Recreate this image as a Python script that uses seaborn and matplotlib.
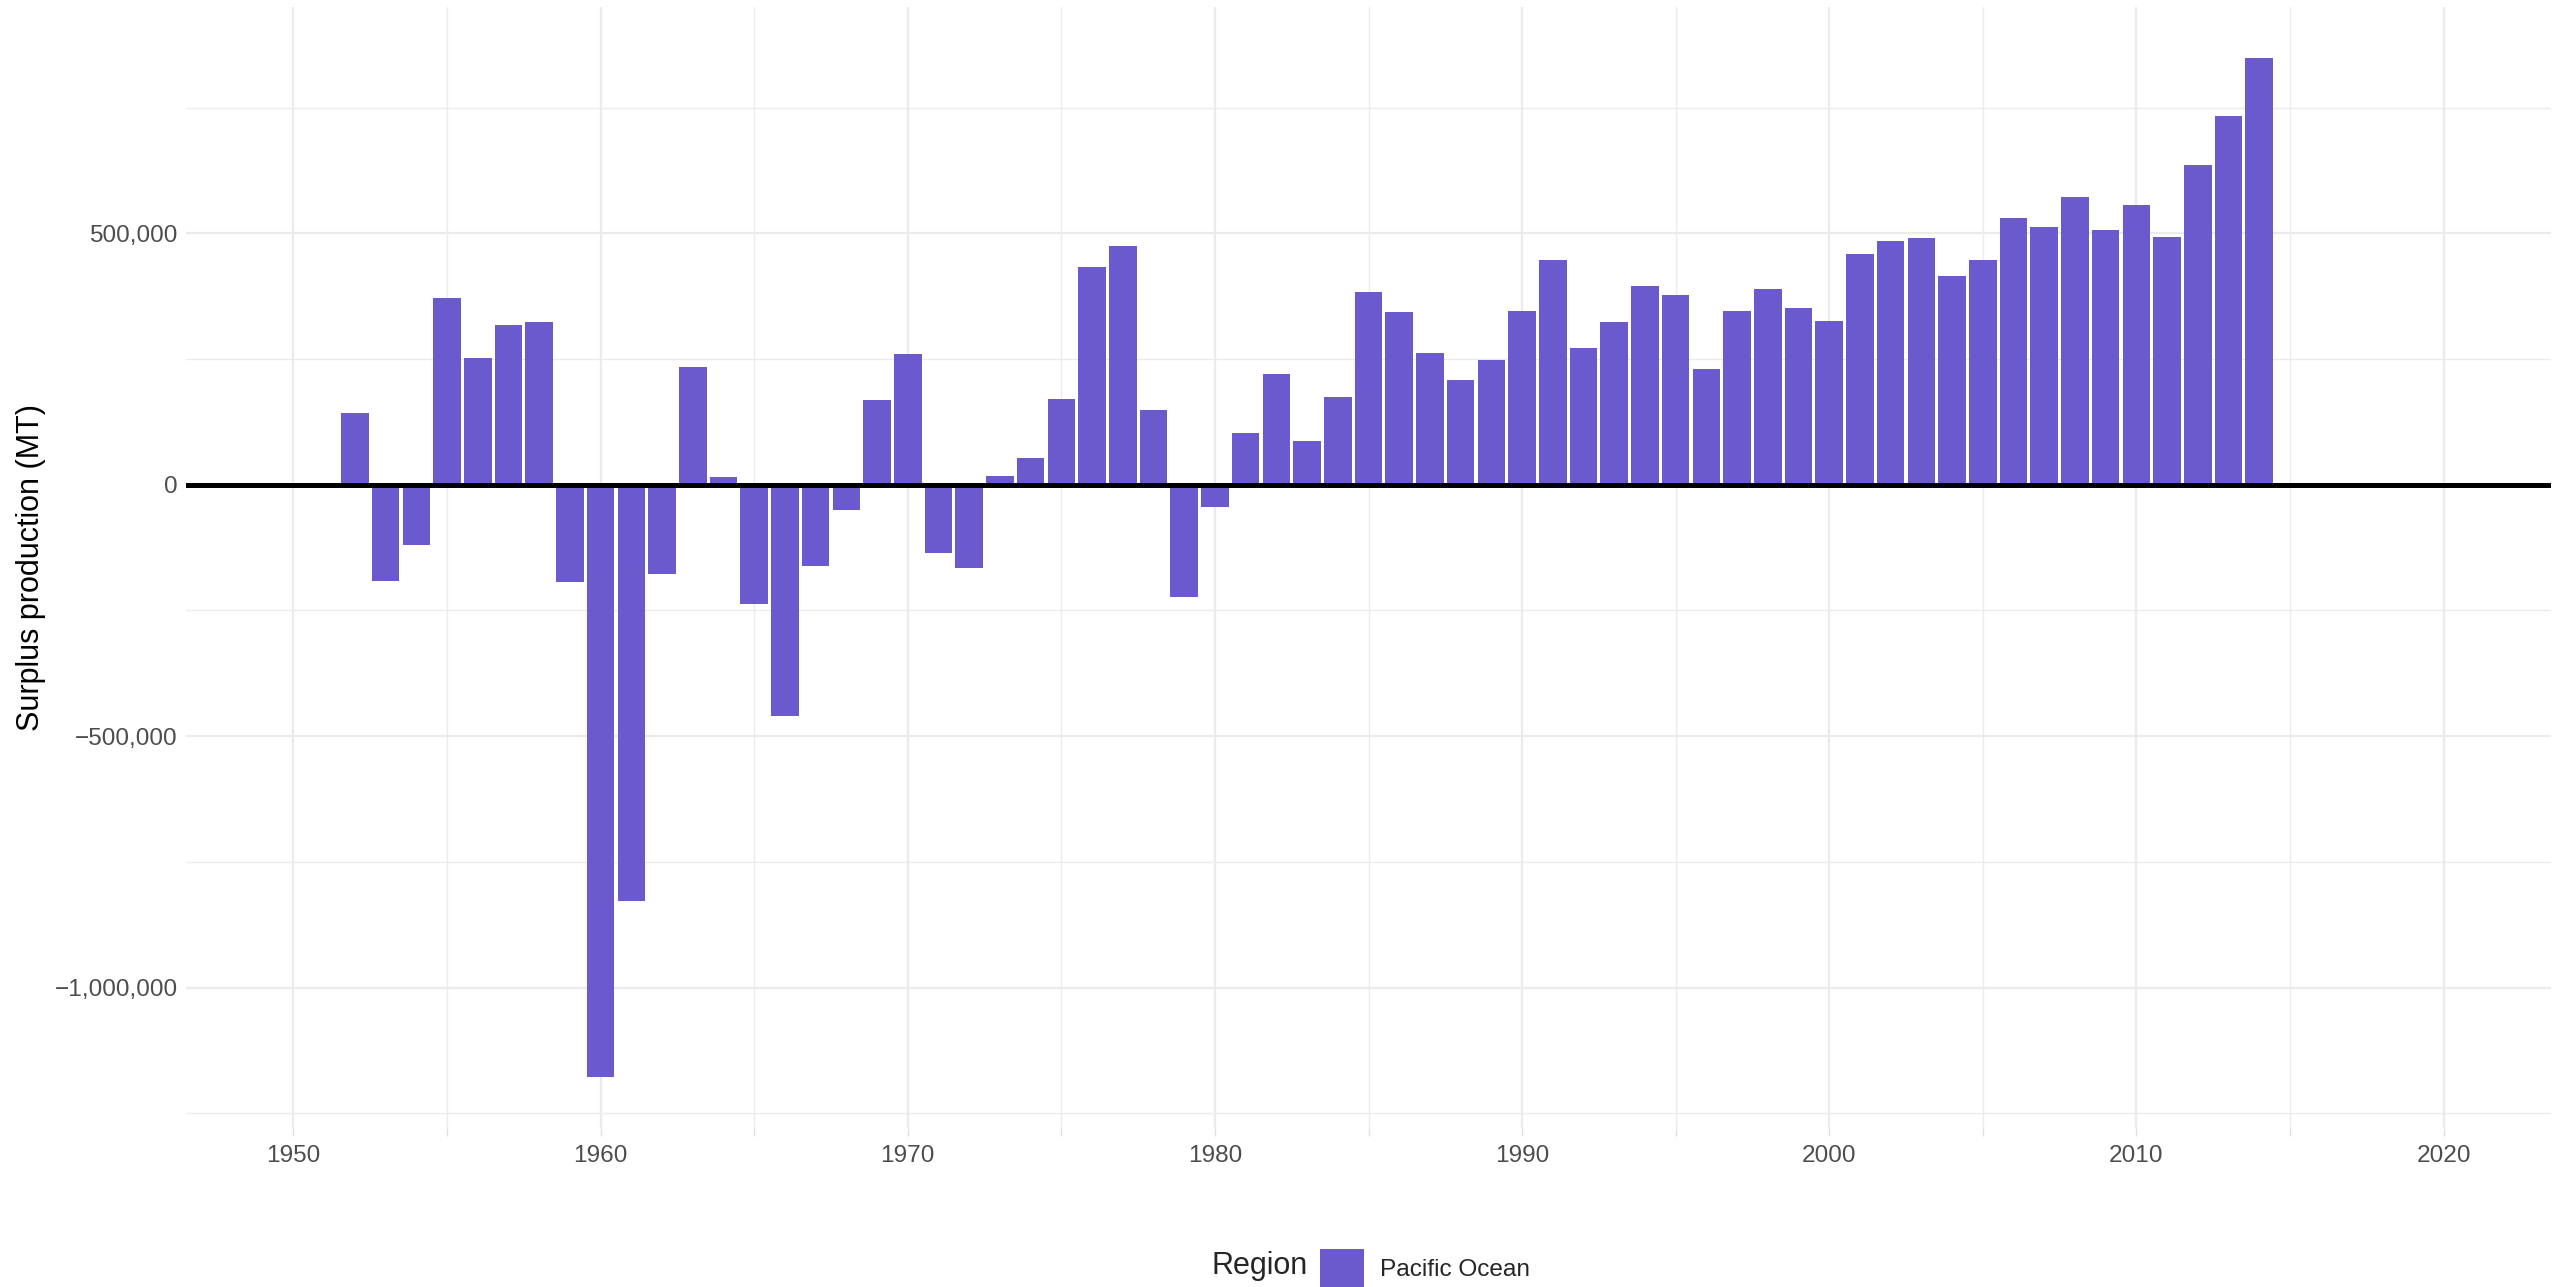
import numpy as np
import pandas as pd
import seaborn as sns
import matplotlib.pyplot as plt
from matplotlib.patches import Patch
from matplotlib.ticker import FuncFormatter, MultipleLocator

# values (MT)
years = list(range(1952, 2015))
surplus = [
    142000, -191000, -120000, 371000, 251000, 317000, 323000, -193000,
    -1178000, -827000, -177000, 235000, 15000, -237000, -459000, -161000,
    -50000, 168000, 259000, -136000, -165000, 18000, 53000, 170000,
    433000, 475000, 148000, -224000, -44000, 102000, 221000, 86000,
    174000, 383000, 344000, 262000, 209000, 247000, 346000, 446000,
    272000, 323000, 395000, 377000, 231000, 346000, 390000, 352000,
    325000, 459000, 484000, 490000, 415000, 446000, 531000, 512000,
    572000, 506000, 556000, 493000, 636000, 734000, 848000,
]
region = ["Pacific Ocean"] * len(years)
bar_color = "#6A5ACD"

df = pd.DataFrame({"Year": years, "Surplus": surplus, "Region": region})

sns.set_theme(style="white")
plt.rcParams["font.family"] = ["Liberation Sans", "DejaVu Sans"]

fig = plt.figure(figsize=(2569 / 200, 1287 / 200), dpi=200)
ax = fig.add_axes([0.0724, 0.1236, 0.9206, 0.871])

# grid, ggplot minimal style
ax.set_axisbelow(True)
ax.xaxis.set_major_locator(MultipleLocator(10))
ax.xaxis.set_minor_locator(MultipleLocator(5))
ax.yaxis.set_major_locator(MultipleLocator(500000))
ax.yaxis.set_minor_locator(MultipleLocator(250000))
ax.grid(which="major", color="#EBEBEB", lw=0.8)
ax.grid(which="minor", color="#EBEBEB", lw=0.5)

sns.barplot(data=df, x="Year", y="Surplus", hue="Region",
            palette={"Pacific Ocean": bar_color}, native_scale=True,
            width=0.9, saturation=1, linewidth=0, legend=False, ax=ax)

ax.axhline(0, color="black", lw=1.8, zorder=5)

ax.set_xlim(1946.5, 2023.5)
ax.set_ylim(-1279000, 950000)
ax.yaxis.set_major_formatter(FuncFormatter(lambda v, p: f"{int(v):,}".replace("-", "\u2212")))

for s in ax.spines.values():
    s.set_visible(False)
ax.tick_params(axis="both", which="major", labelsize=8.8, labelcolor="#4D4D4D",
               length=3, width=0.5, color="#E0E0E0", pad=3)
ax.tick_params(axis="x", which="minor", length=3, width=0.5, color="#E0E0E0")
ax.tick_params(axis="y", which="both", length=0)
ax.xaxis.set_ticks_position("bottom")

ax.set_xlabel("")
ax.set_ylabel("Surplus production (MT)", fontsize=11, color="black", labelpad=3)

# legend at bottom: title on the left like ggplot
fig.text(1212 / 2569, 1 - 1266 / 1287, "Region", fontsize=11, ha="left", va="center")
fig.legend(handles=[Patch(facecolor=bar_color, edgecolor="none")], labels=["Pacific Ocean"],
           loc="center left", bbox_to_anchor=(1320 / 2569, 1 - 1268 / 1287),
           frameon=False, fontsize=8.8, handlelength=1.8, handleheight=2.0,
           handletextpad=0.65, borderpad=0, borderaxespad=0)

fig.savefig("out.png", dpi=200)
